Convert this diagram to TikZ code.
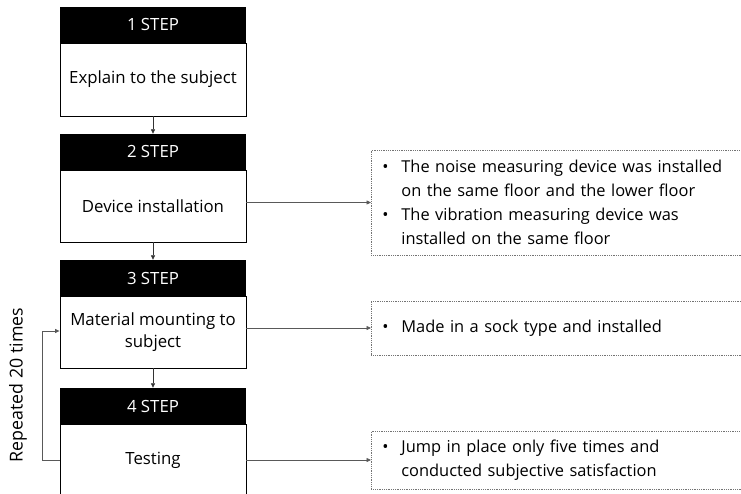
\documentclass[tikz,border=0pt]{standalone}
\usepackage{fontspec}
\setmainfont{Open Sans}
\usetikzlibrary{arrows.meta}
\tikzset{
  hdr/.style={fill=black, text=white, minimum width=186pt, minimum height=36pt, inner sep=0pt, font=\fontsize{16.8}{20}\selectfont},
  body/.style={draw=black, line width=0.9pt, fill=white, minimum width=186pt, minimum height=72pt, inner sep=0pt, align=center, font=\fontsize{16.8}{22}\selectfont},
  note/.style={draw=black!55, densely dotted, line width=0.8pt, minimum width=372pt, anchor=west, inner xsep=11pt, inner ysep=0pt, text width=350pt, align=left, font=\fontsize{16.4}{24}\selectfont},
  conn/.style={draw=black!65, line width=0.7pt, -{Triangle[width=4pt,length=4.5pt]}},
  vconn/.style={draw=black!80, line width=0.7pt, -{Triangle[width=4pt,length=4.5pt]}},
}
\newcommand{\bul}{\makebox[19pt][l]{\textbullet}}
\begin{document}
\begin{tikzpicture}[x=1pt,y=-1pt]
\useasboundingbox (0,0) rectangle (741,494);
\clip (0,0) rectangle (741,494);
\node[hdr] (h1) at (153,25) {1 STEP};
\node[body, minimum height=73pt] (b1) at (153,79.5) {Explain to the subject};
\node[hdr] (h2) at (153,152) {2 STEP};
\node[body] (b2) at (153,206) {Device installation};
\node[hdr] (h3) at (153,278) {3 STEP};
\node[body] (b3) at (153,332) {Material mounting to\\subject};
\node[hdr] (h4) at (153,406) {4 STEP};
\node[body] (b4) at (153,460) {Testing};

\node[note, minimum height=105pt] (n2) at (371,202.5) {\bul The noise measuring device was installed\\\hspace*{19pt}on the same floor and the lower floor\\\bul The vibration measuring device was\\\hspace*{19pt}installed on the same floor};
\node[note, minimum height=54pt] (n3) at (371,328) {\bul Made in a sock type and installed};
\node[note, minimum height=58pt] (n4) at (371,460) {\bul Jump in place only five times and\\\hspace*{19pt}conducted subjective satisfaction};

\node[rotate=90, font=\fontsize{17.8}{20}\selectfont] (rep) at (18,385) {Repeated 20 times};
\coordinate (lp) at (42,0);

\draw[vconn] (b1.south) -- (h2.north);
\draw[vconn] (b2.south) -- (h3.north);
\draw[vconn] (b3.south) -- (h4.north);
\draw[conn] (b2.east |- n2.west) -- (n2.west);
\draw[conn] (b3.east |- n3.west) -- (n3.west);
\draw[conn] (b4.east |- n4.west) -- (n4.west);
\draw[conn] (b4.west) -| ([yshift=1pt]lp |- b3.west) -- ([yshift=1pt]b3.west);
\end{tikzpicture}
\end{document}
